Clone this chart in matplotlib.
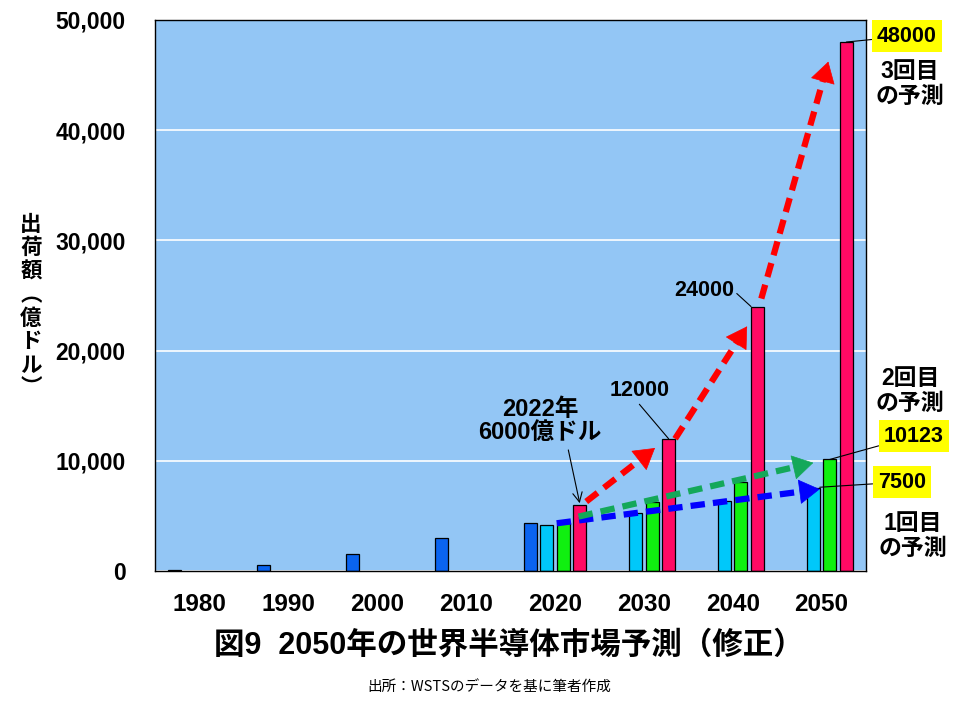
import numpy as np
import matplotlib.pyplot as plt

# データ（億ドル）
years = ['1980', '1990', '2000', '2010', '2020', '2030', '2040', '2050']
actual = [130, 520, 1530, 2960, 4350, np.nan, np.nan, np.nan]
forecast1 = [np.nan, np.nan, np.nan, np.nan, 4150, 5300, 6350, 7500]
forecast2 = [np.nan, np.nan, np.nan, np.nan, 4330, 6240, 8050, 10123]
forecast3 = [np.nan, np.nan, np.nan, np.nan, 6000, 12000, 24000, 48000]

series = [actual, forecast1, forecast2, forecast3]
colors = ['#0a64f0', '#00c8fa', '#10f010', '#ff0a64']

W, H = 967, 706
NUM = ['Liberation Sans', 'Noto Sans CJK JP', 'DejaVu Sans']
JP = ['Noto Sans CJK JP', 'DejaVu Sans']

fig = plt.figure(figsize=(W / 100, H / 100), dpi=100)
ax = fig.add_axes([155 / W, 135 / H, 711 / W, 551 / H])
ax.set_facecolor('#93c6f5')

x = np.arange(len(years))
step = 0.186
bw = 0.146


def pos(i, j):
    return i + (j - 1.5) * step


# 棒グラフ
for j, (vals, c) in enumerate(zip(series, colors)):
    v = np.array(vals, dtype=float)
    m = ~np.isnan(v)
    ax.bar(x[m] + (j - 1.5) * step, v[m], width=bw, color=c,
           edgecolor='black', linewidth=0.9, zorder=2)

ax.set_xlim(-0.5, len(years) - 0.5)
ax.set_ylim(0, 50000)
ax.set_yticks(np.arange(0, 50001, 10000))
ax.set_yticklabels([f'{v:,}' for v in range(0, 50001, 10000)],
                   family=NUM, fontsize=16.5, fontweight='bold')
ax.set_xticks(x)
ax.set_xticklabels(years, family=NUM, fontsize=17.5, fontweight='bold')
ax.tick_params(axis='y', length=0, pad=21)
ax.tick_params(axis='x', length=0, pad=16)
ax.yaxis.grid(True, color='white', linewidth=1.2)
ax.set_axisbelow(True)
for s in ax.spines.values():
    s.set_color('black')
    s.set_linewidth(1.0)


# 予測の伸びを示す破線矢印
def yval(j, i, f):
    return series[j][i] * f


def trend_arrow(p0, p1, c):
    d0 = ax.transData.transform(p0)
    d1 = ax.transData.transform(p1)
    u = (d1 - d0) / np.hypot(*(d1 - d0))
    pm = ax.transData.inverted().transform(d1 - u * 19)
    ax.plot([p0[0], pm[0]], [p0[1], pm[1]], color=c, lw=4.5,
            ls=(0, (2.3, 1.3)), dash_capstyle='butt', zorder=4)
    ax.annotate('', xy=p1, xytext=pm, zorder=4,
                arrowprops=dict(arrowstyle='-|>,head_length=0.7,head_width=0.42',
                                color=c, lw=0.5, mutation_scale=20,
                                shrinkA=0, shrinkB=0))


arrows = [
    ('#0000ff', (pos(4, 2) - bw / 2, yval(2, 4, 1.0)), (pos(7, 1) + bw / 2, yval(1, 7, 0.99))),
    ('#14a85a', (pos(4, 3) - bw / 2 + 0.06, yval(2, 4, 1.14)), (pos(7, 1), yval(2, 7, 0.97))),
    ('#ff0000', (pos(4, 3) + bw / 2, yval(3, 4, 1.05)), (pos(5, 3) - bw / 2 - 0.08, yval(3, 5, 0.93))),
    ('#ff0000', (pos(5, 3) + bw / 2, yval(3, 5, 1.0)), (pos(6, 3) - bw / 2 - 0.044, yval(3, 6, 0.925))),
    ('#ff0000', (pos(6, 3) + bw / 2 - 0.03, yval(3, 6, 1.03)), (pos(7, 3) - bw / 2 - 0.13, yval(3, 7, 0.963))),
]
for c, p0, p1 in arrows:
    trend_arrow(p0, p1, c)

# 数値ラベル
ybox = dict(boxstyle='square,pad=0.25', fc='#ffff00', ec='none')
lead = dict(arrowstyle='-', color='black', lw=0.8, shrinkA=0, shrinkB=0)

ax.annotate('48000', xy=(pos(7, 3), forecast3[7]), xytext=(907, H - 36),
            textcoords='figure pixels', ha='center', va='center',
            family=NUM, fontsize=15.5, fontweight='bold', bbox=ybox,
            arrowprops=lead, annotation_clip=False, zorder=5)
ax.annotate('10123', xy=(pos(7, 2), forecast2[7]), xytext=(914, H - 436),
            textcoords='figure pixels', ha='center', va='center',
            family=NUM, fontsize=15.5, fontweight='bold', bbox=ybox,
            arrowprops=lead, annotation_clip=False, zorder=5)
ax.annotate('7500', xy=(pos(7, 1) + bw / 2, forecast1[7] + 100), xytext=(902, H - 482),
            textcoords='figure pixels', ha='center', va='center',
            family=NUM, fontsize=15.5, fontweight='bold', bbox=ybox,
            arrowprops=lead, annotation_clip=False, zorder=5)
ax.annotate('12000', xy=(pos(5, 3), forecast3[5]), xytext=(640, H - 391),
            textcoords='figure pixels', ha='center', va='center',
            family=NUM, fontsize=15.5, fontweight='bold',
            arrowprops=dict(lead, relpos=(0.45, 0.0)), zorder=5)
ax.annotate('24000', xy=(pos(6, 3) - bw / 2, forecast3[6]), xytext=(704, H - 291),
            textcoords='figure pixels', ha='center', va='center',
            family=NUM, fontsize=15.5, fontweight='bold',
            arrowprops=dict(lead, relpos=(1.0, 0.5)), zorder=5)
ax.annotate('2022年\n6000億ドル', xy=(pos(4, 3), forecast3[4] + 150), xytext=(540, H - 421),
            textcoords='figure pixels', ha='center', va='center',
            family=NUM, fontsize=17, fontweight='bold', linespacing=1.05,
            arrowprops=dict(arrowstyle='->', color='black', lw=0.8,
                            relpos=(0.72, 0.0), shrinkA=2, shrinkB=0), zorder=5)

# 系列名（右側）
for label, px, py in [('3回目\nの予測', 910, 84), ('2回目\nの予測', 910, 391), ('1回目\nの予測', 913, 536)]:
    fig.text(px / W, 1 - py / H, label, ha='center', va='center',
             family=NUM, fontsize=16.5, fontweight='bold', linespacing=1.1)

# 縦書きの軸ラベル
ylab = ['出', '荷', '額', '︵', '億', 'ド', 'ル', '︶']
for k, ch in enumerate(ylab):
    fig.text(31 / W, 1 - (224 + 23.5 * k) / H, ch, ha='center', va='center',
             family=JP, fontsize=15.5, fontweight='bold')

fig.text(509 / W, 1 - 646 / H, '図9  2050年の世界半導体市場予測（修正）',
         ha='center', va='center', family=NUM, fontsize=22, fontweight='bold')
fig.text(489 / W, 1 - 688 / H, '出所：WSTSのデータを基に筆者作成',
         ha='center', va='center', family=JP, fontsize=10.5)

fig.savefig('out.png', dpi=100)
